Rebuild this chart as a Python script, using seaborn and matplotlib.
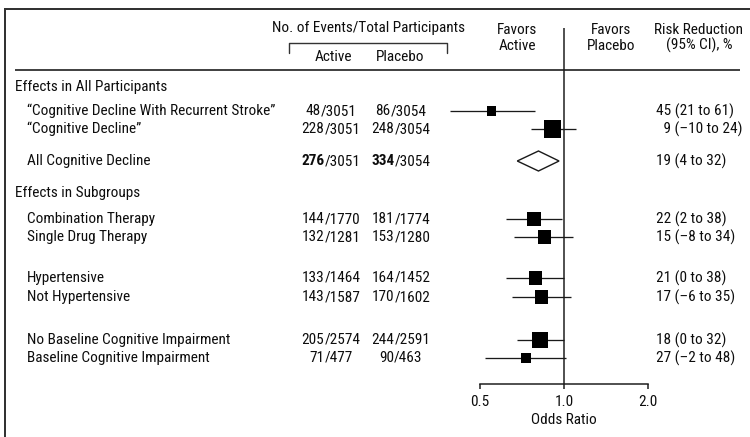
import numpy as np
import pandas as pd
import matplotlib
matplotlib.use("Agg")
import matplotlib.pyplot as plt
from matplotlib.patches import Polygon
import seaborn as sns

# ---------------- data ----------------
section_titles = ["Effects in All Participants", "Effects in Subgroups"]
subgroups = [
    "\u201cCognitive Decline With Recurrent Stroke\u201d",
    "\u201cCognitive Decline\u201d",
    "All Cognitive Decline",
    "Combination Therapy",
    "Single Drug Therapy",
    "Hypertensive",
    "Not Hypertensive",
    "No Baseline Cognitive Impairment",
    "Baseline Cognitive Impairment",
]
active_events = [48, 228, 276, 144, 132, 133, 143, 205, 71]
active_total = [3051, 3051, 3051, 1770, 1281, 1464, 1587, 2574, 477]
placebo_events = [86, 248, 334, 181, 153, 164, 170, 244, 90]
placebo_total = [3054, 3054, 3054, 1774, 1280, 1452, 1602, 2591, 463]
risk_reduction = [45, 9, 19, 22, 15, 21, 17, 18, 27]
rr_ci_low = [21, -10, 4, 2, -8, 0, -6, 0, -2]
rr_ci_high = [61, 24, 32, 38, 34, 38, 35, 32, 48]
pooled_row = 2  # summary estimate drawn as a diamond, counts in bold

tick_values = [0.5, 1.0, 2.0]
tick_labels = ["0.5", "1.0", "2.0"]

# ---------------- derived values ----------------
df = pd.DataFrame({
    "label": subgroups,
    "events": np.array(active_events) + np.array(placebo_events),
    "odds_ratio": 1 - np.array(risk_reduction) / 100,
    "or_low": 1 - np.array(rr_ci_high) / 100,
    "or_high": 1 - np.array(rr_ci_low) / 100,
})

# ---------------- layout (figure pixels, y downward) ----------------
W, H = 750, 437
row_y = [111, 129, 161, 219, 237, 278, 297, 340, 358]
section_y = [87, 193]
df["y"] = row_y

TXT = "#0d0d0d"
LINE = "#1a1a1a"

sns.set_theme(style="white")
plt.rcParams["font.family"] = ["Roboto Condensed", "DejaVu Sans"]
plt.rcParams["text.color"] = TXT

fig = plt.figure(figsize=(W / 100, H / 100), dpi=100)
fig.patch.set_facecolor("white")

# Full-figure axes for table text and rules
bg = fig.add_axes([0, 0, 1, 1])
bg.set_xlim(0, W)
bg.set_ylim(H, 0)
bg.axis("off")
renderer = fig.canvas.get_renderer()

# Choose the font size so the first section title spans its column width
probe = bg.text(0, 0, section_titles[0], fontsize=10)
FS = 10 * 152 / probe.get_window_extent(renderer).width
probe.remove()

px = 0.72  # points per pixel
bg.plot([4, W], [9, 9], color="#333333", lw=2 * px, solid_capstyle="butt")
bg.plot([5, 5], [9, H], color="#333333", lw=2 * px, solid_capstyle="butt")
bg.plot([15, 740], [70, 70], color="#444444", lw=2 * px, solid_capstyle="butt")
bg.plot([289, 289, 447, 447], [53, 43, 43, 53], color="#333333", lw=1.4 * px)

# Column headers
bg.text(369, 28, "No. of Events/Total Participants", ha="center", va="center", fontsize=FS)
bg.text(333, 57, "Active", ha="center", va="center", fontsize=FS)
bg.text(400, 57, "Placebo", ha="center", va="center", fontsize=FS)
bg.text(517, 38, "Favors\nActive", ha="center", va="center", fontsize=FS, linespacing=1.1)
bg.text(611, 38, "Favors\nPlacebo", ha="center", va="center", fontsize=FS, linespacing=1.1)
bg.text(699, 38, "Risk Reduction\n(95% CI), %", ha="center", va="center", fontsize=FS, linespacing=1.1)

for title, y in zip(section_titles, section_y):
    bg.text(15, y, title, ha="left", va="center", fontsize=FS)


def centered_parts(x, y, parts):
    """Draw text pieces of mixed weight centred on x."""
    items = [bg.text(0, y, s, ha="left", va="center", fontsize=FS, fontweight=w)
             for s, w in parts]
    widths = [t.get_window_extent(renderer).width for t in items]
    cur = x - sum(widths) / 2
    for t, wd in zip(items, widths):
        t.set_x(cur)
        cur += wd


def fmt(v):
    return f"\u2013{abs(v)}" if v < 0 else f"{v}"


for i, r in df.iterrows():
    y = r["y"]
    bg.text(27, y, r["label"], ha="left", va="center", fontsize=FS)
    w = "bold" if i == pooled_row else "normal"
    centered_parts(331, y, [(f"{active_events[i]}", w), (f"/{active_total[i]}", "normal")])
    centered_parts(401, y, [(f"{placebo_events[i]}", w), (f"/{placebo_total[i]}", "normal")])
    lead = "\u2007" if risk_reduction[i] < 10 else ""
    bg.text(656, y, f"{lead}{risk_reduction[i]} ({fmt(rr_ci_low[i])} to {fmt(rr_ci_high[i])})",
            ha="left", va="center", fontsize=FS)

# Forest plot axes on a log2 odds-ratio scale
ax = fig.add_axes([480 / W, (H - 384) / H, 168 / W, (384 - 28) / H])
ax.set_facecolor("none")
ax.set_xscale("log", base=2)
ax.set_xlim(0.5, 2.0)
ax.set_ylim(384, 28)

ax.axvline(1.0, color=LINE, lw=1.5 * px, zorder=1)

est = df.drop(index=pooled_row)
ax.hlines(est["y"], est["or_low"], est["or_high"], color=LINE, lw=1.3 * px, clip_on=False, zorder=2)

side_pt = 0.78 * np.sqrt(est["events"]) * px
sizes = dict(zip(est["label"], side_pt ** 2))
sns.scatterplot(data=est, x="odds_ratio", y="y", size="label", sizes=sizes,
                marker="s", color="black", linewidth=0, legend=False, ax=ax,
                clip_on=False, zorder=3)

p = df.loc[pooled_row]
diamond = Polygon([(p["or_low"], p["y"]), (p["odds_ratio"], p["y"] - 10),
                   (p["or_high"], p["y"]), (p["odds_ratio"], p["y"] + 10)],
                  closed=True, facecolor="white", edgecolor=LINE, lw=1.4 * px, zorder=3)
ax.add_patch(diamond)

for side in ["top", "right", "left"]:
    ax.spines[side].set_visible(False)
ax.spines["bottom"].set_color(LINE)
ax.spines["bottom"].set_linewidth(1.5 * px)
ax.set_yticks([])
ax.set_xticks(tick_values)
ax.set_xticklabels(tick_labels)
ax.xaxis.set_minor_locator(matplotlib.ticker.NullLocator())
ax.tick_params(axis="x", direction="out", length=5 * px, width=1.5 * px, color=LINE,
               labelsize=FS, labelcolor=TXT, pad=4.5, bottom=True)
ax.set_xlabel("Odds Ratio", fontsize=FS, color=TXT, labelpad=3)
ax.set_ylabel("")

fig.savefig("out.png", dpi=100, facecolor="white")
